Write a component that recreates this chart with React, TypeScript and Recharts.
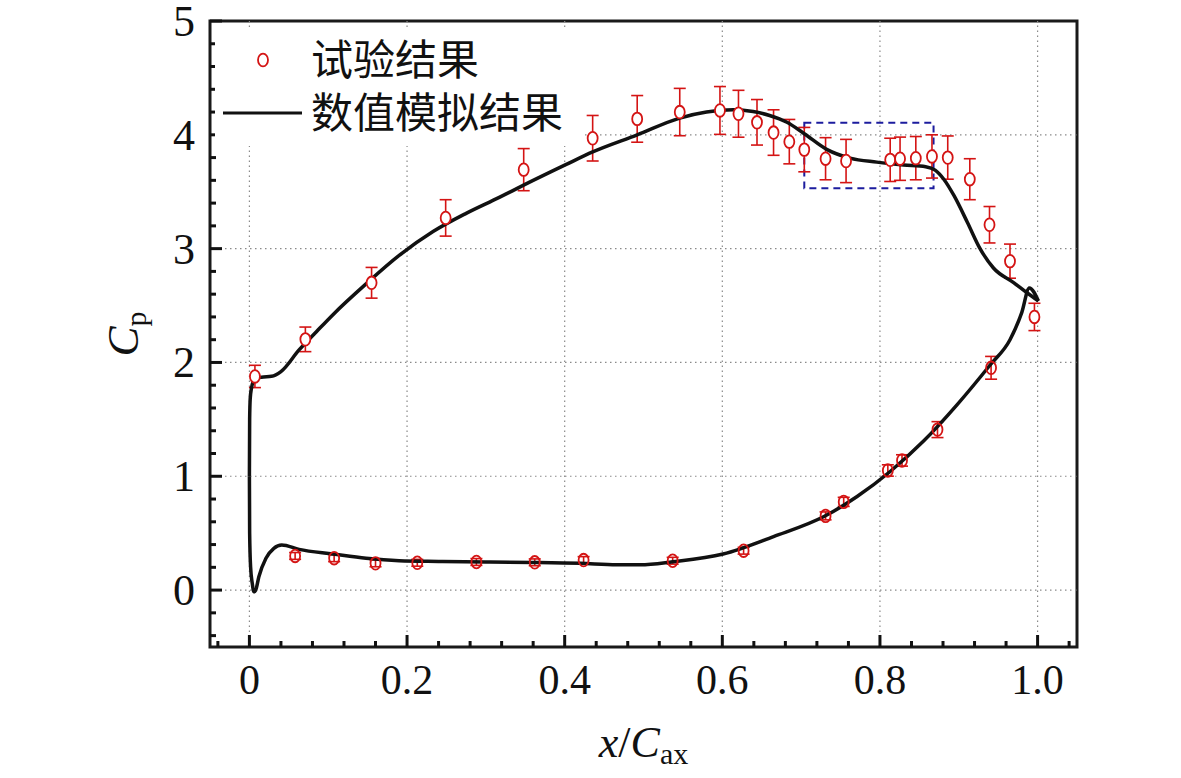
import React from 'react';
import { ComposedChart, XAxis, YAxis, Scatter, Line, ErrorBar, ReferenceLine, ReferenceArea, Legend, Label } from 'recharts';

// experimental Cp, suction side (x/Cax, Cp, error)
const testUpper = [
  { x: 0.007, cp: 1.877, err: 0.098 },
  { x: 0.071, cp: 2.203, err: 0.108 },
  { x: 0.155, cp: 2.7, err: 0.135 },
  { x: 0.249, cp: 3.27, err: 0.16 },
  { x: 0.348, cp: 3.694, err: 0.185 },
  { x: 0.4355, cp: 3.97, err: 0.2 },
  { x: 0.492, cp: 4.14, err: 0.205 },
  { x: 0.546, cp: 4.2, err: 0.208 },
  { x: 0.597, cp: 4.214, err: 0.21 },
  { x: 0.6205, cp: 4.185, err: 0.206 },
  { x: 0.644, cp: 4.11, err: 0.2 },
  { x: 0.665, cp: 4.02, err: 0.2 },
  { x: 0.685, cp: 3.94, err: 0.195 },
  { x: 0.704, cp: 3.87, err: 0.195 },
  { x: 0.731, cp: 3.79, err: 0.185 },
  { x: 0.757, cp: 3.77, err: 0.19 },
  { x: 0.813, cp: 3.78, err: 0.19 },
  { x: 0.8255, cp: 3.79, err: 0.19 },
  { x: 0.8455, cp: 3.795, err: 0.19 },
  { x: 0.866, cp: 3.81, err: 0.19 },
  { x: 0.886, cp: 3.8, err: 0.19 },
  { x: 0.914, cp: 3.61, err: 0.18 },
  { x: 0.939, cp: 3.21, err: 0.16 },
  { x: 0.965, cp: 2.89, err: 0.15 },
  { x: 0.996, cp: 2.4, err: 0.12 },
];

// experimental Cp, pressure side
const testLower = [
  { x: 0.058, cp: 0.3, err: 0.03 },
  { x: 0.1075, cp: 0.28, err: 0.03 },
  { x: 0.16, cp: 0.235, err: 0.03 },
  { x: 0.213, cp: 0.24, err: 0.03 },
  { x: 0.288, cp: 0.247, err: 0.03 },
  { x: 0.362, cp: 0.244, err: 0.03 },
  { x: 0.424, cp: 0.264, err: 0.03 },
  { x: 0.537, cp: 0.258, err: 0.03 },
  { x: 0.627, cp: 0.346, err: 0.03 },
  { x: 0.731, cp: 0.652, err: 0.035 },
  { x: 0.754, cp: 0.775, err: 0.04 },
  { x: 0.81, cp: 1.051, err: 0.05 },
  { x: 0.828, cp: 1.139, err: 0.05 },
  { x: 0.873, cp: 1.41, err: 0.07 },
  { x: 0.941, cp: 1.953, err: 0.1 },
];

// CFD curve, suction side
const cfdUpper = [
  { x: 0.0, cp: 1.0 },
  { x: 0.0003, cp: 1.5 },
  { x: 0.001, cp: 1.68 },
  { x: 0.0025, cp: 1.77 },
  { x: 0.005, cp: 1.835 },
  { x: 0.009, cp: 1.865 },
  { x: 0.018, cp: 1.872 },
  { x: 0.028, cp: 1.878 },
  { x: 0.04, cp: 1.92 },
  { x: 0.063, cp: 2.11 },
  { x: 0.085, cp: 2.27 },
  { x: 0.106, cp: 2.42 },
  { x: 0.148, cp: 2.69 },
  { x: 0.19, cp: 2.94 },
  { x: 0.233, cp: 3.15 },
  { x: 0.275, cp: 3.31 },
  { x: 0.317, cp: 3.45 },
  { x: 0.3485, cp: 3.56 },
  { x: 0.402, cp: 3.74 },
  { x: 0.4355, cp: 3.85 },
  { x: 0.492, cp: 4.0 },
  { x: 0.546, cp: 4.147 },
  { x: 0.58, cp: 4.2 },
  { x: 0.614, cp: 4.22 },
  { x: 0.639, cp: 4.205 },
  { x: 0.66, cp: 4.17 },
  { x: 0.682, cp: 4.11 },
  { x: 0.704, cp: 4.01 },
  { x: 0.733, cp: 3.87 },
  { x: 0.762, cp: 3.795 },
  { x: 0.796, cp: 3.76 },
  { x: 0.83, cp: 3.735 },
  { x: 0.858, cp: 3.72 },
  { x: 0.87, cp: 3.69 },
  { x: 0.881, cp: 3.61 },
  { x: 0.894, cp: 3.465 },
  { x: 0.911, cp: 3.23 },
  { x: 0.927, cp: 3.0 },
  { x: 0.944, cp: 2.83 },
  { x: 0.97, cp: 2.7 },
  { x: 0.987, cp: 2.61 },
  { x: 1.001, cp: 2.54 },
];

// CFD curve, pressure side
const cfdLower = [
  { x: 0.0, cp: 1.0 },
  { x: 0.0003, cp: 0.5 },
  { x: 0.0015, cp: 0.205 },
  { x: 0.0036, cp: 0.06 },
  { x: 0.0057, cp: -0.015 },
  { x: 0.008, cp: 0.0 },
  { x: 0.012, cp: 0.117 },
  { x: 0.021, cp: 0.28 },
  { x: 0.031, cp: 0.367 },
  { x: 0.041, cp: 0.396 },
  { x: 0.063, cp: 0.358 },
  { x: 0.106, cp: 0.317 },
  { x: 0.148, cp: 0.279 },
  { x: 0.19, cp: 0.258 },
  { x: 0.24, cp: 0.252 },
  { x: 0.3, cp: 0.247 },
  { x: 0.36, cp: 0.243 },
  { x: 0.42, cp: 0.235 },
  { x: 0.466, cp: 0.222 },
  { x: 0.496, cp: 0.222 },
  { x: 0.537, cp: 0.249 },
  { x: 0.601, cp: 0.317 },
  { x: 0.665, cp: 0.47 },
  { x: 0.729, cp: 0.646 },
  { x: 0.771, cp: 0.822 },
  { x: 0.813, cp: 1.042 },
  { x: 0.855, cp: 1.307 },
  { x: 0.898, cp: 1.63 },
  { x: 0.94, cp: 1.98 },
  { x: 0.965, cp: 2.2 },
  { x: 0.98, cp: 2.44 },
  { x: 0.9895, cp: 2.655 },
  { x: 1.001, cp: 2.54 },
];

const xTicks = [
  -0.04, 0, 0.04, 0.08, 0.12, 0.16, 0.2, 0.24, 0.28, 0.32, 0.36, 0.4, 0.44, 0.48,
  0.52, 0.56, 0.6, 0.64, 0.68, 0.72, 0.76, 0.8, 0.84, 0.88, 0.92, 0.96, 1.0, 1.04,
];
const xMajorTicks = [0, 0.2, 0.4, 0.6, 0.8, 1.0];
const xMajorLabels = ['0', '0.2', '0.4', '0.6', '0.8', '1.0'];

const yTicks = [
  -0.4, -0.2, 0, 0.2, 0.4, 0.6, 0.8, 1, 1.2, 1.4, 1.6, 1.8, 2, 2.2, 2.4, 2.6, 2.8,
  3, 3.2, 3.4, 3.6, 3.8, 4, 4.2, 4.4, 4.6, 4.8, 5,
];
const yMajorTicks = [0, 1, 2, 3, 4, 5];
const yMajorLabels = ['0', '1', '2', '3', '4', '5'];

const gridX = [0, 0.2, 0.4, 0.6, 0.8, 1.0];
const gridY = [0, 1, 2, 3, 4];

// zoom box around the plateau
const boxX = [0.704, 0.868];
const boxY = [3.53, 4.106];

const RED = '#d41414';
const INK = '#111';
const SERIF = '"Liberation Serif", "Times New Roman", serif';
const CJK = '"Noto Sans CJK SC", sans-serif';

function findMajor(list: number[], v: number) {
  return list.findIndex((m) => Math.abs(m - v) < 1e-6);
}

function XTick(props: any) {
  const { x, y, payload } = props;
  const idx = findMajor(xMajorTicks, payload.value);
  const major = idx >= 0;
  return (
    <g>
      <line x1={x} x2={x} y1={y} y2={y - (major ? 12 : 6)} stroke={INK} strokeWidth={3} />
      {major && (
        <text x={x} y={y + 47} textAnchor="middle" fontSize={42} fontFamily={SERIF} fill={INK}>
          {xMajorLabels[idx]}
        </text>
      )}
    </g>
  );
}

function YTick(props: any) {
  const { x, y, payload } = props;
  const idx = findMajor(yMajorTicks, payload.value);
  const major = idx >= 0;
  return (
    <g>
      <line x1={x} x2={x + (major ? 12 : 6)} y1={y} y2={y} stroke={INK} strokeWidth={3} />
      {major && (
        <text x={x - 15} y={y + 15} textAnchor="end" fontSize={44} fontFamily={SERIF} fill={INK}>
          {yMajorLabels[idx]}
        </text>
      )}
    </g>
  );
}

function XLabel(props: any) {
  const vb = props.viewBox;
  return (
    <text x={vb.x + vb.width / 2} y={vb.y + 110} textAnchor="middle" fontSize={44} fontFamily={SERIF} fill={INK}>
      <tspan fontStyle="italic">x</tspan>
      <tspan>/</tspan>
      <tspan fontStyle="italic">C</tspan>
      <tspan fontSize={30} dy={7}>ax</tspan>
    </text>
  );
}

function YLabel(props: any) {
  const vb = props.viewBox;
  const cx = vb.x + 38;
  const cy = vb.y + vb.height / 2;
  return (
    <text x={cx} y={cy} transform={`rotate(-90, ${cx}, ${cy})`} textAnchor="middle" fontSize={45} fontFamily={SERIF} fill={INK}>
      <tspan fontStyle="italic">C</tspan>
      <tspan fontSize={30} dy={8}>p</tspan>
    </text>
  );
}

const openDot = (fill: string) => (p: any) => (
  <ellipse cx={p.cx} cy={p.cy} rx={5} ry={6.3} fill={fill} stroke={RED} strokeWidth={1.8} />
);

function LegendBox() {
  return (
    <svg width={370} height={116} style={{ display: 'block', background: '#fff', overflow: 'visible' }}>
      <ellipse cx={48} cy={30} rx={5} ry={6.3} fill="#fff" stroke={RED} strokeWidth={1.8} />
      <text x={96} y={45} fontSize={42} fontFamily={CJK} fill={INK}>试验结果</text>
      <line x1={8} x2={87} y1={83} y2={83} stroke={INK} strokeWidth={3} />
      <text x={96} y={98} fontSize={42} fontFamily={CJK} fill={INK}>数值模拟结果</text>
    </svg>
  );
}

export default function App() {
  return (
    <div style={{ position: 'absolute', left: 0, top: 0, width: 1181, height: 778, background: '#fff' }}>
      <ComposedChart width={1181} height={778} margin={{ top: 21, right: 104, bottom: 31, left: 100 }}>
        <XAxis
          type="number"
          dataKey="x"
          domain={[-0.05, 1.05]}
          allowDataOverflow
          ticks={xTicks}
          interval={0}
          tick={<XTick />}
          tickLine={false}
          tickSize={0}
          tickMargin={0}
          axisLine={false}
          height={100}
        >
          <Label content={<XLabel />} />
        </XAxis>
        <YAxis
          type="number"
          dataKey="cp"
          domain={[-0.5, 5]}
          allowDataOverflow
          ticks={yTicks}
          interval={0}
          tick={<YTick />}
          tickLine={false}
          tickSize={0}
          tickMargin={0}
          axisLine={false}
          width={110}
        >
          <Label content={<YLabel />} />
        </YAxis>

        {gridX.map((v) => (
          <ReferenceLine key={`gx${v}`} x={v} stroke="#8a8a8a" strokeWidth={1.2} strokeDasharray="1.5 3.5" />
        ))}
        {gridY.map((v) => (
          <ReferenceLine key={`gy${v}`} y={v} stroke="#8a8a8a" strokeWidth={1.2} strokeDasharray="1.5 3.5" />
        ))}

        <ReferenceArea
          x1={boxX[0]}
          x2={boxX[1]}
          y1={boxY[0]}
          y2={boxY[1]}
          fill="none"
          fillOpacity={0}
          stroke="#1c1c9e"
          strokeWidth={2}
          strokeDasharray="7 5"
        />

        <Scatter data={testUpper} dataKey="cp" shape={openDot('#fff')} isAnimationActive={false}>
          <ErrorBar dataKey="err" direction="y" width={6} stroke={RED} strokeWidth={1.6} />
        </Scatter>
        <Scatter data={testLower} dataKey="cp" shape={openDot('none')} isAnimationActive={false}>
          <ErrorBar dataKey="err" direction="y" width={6} stroke={RED} strokeWidth={1.6} />
        </Scatter>

        <Line data={cfdUpper} dataKey="cp" type="monotone" stroke={INK} strokeWidth={3.5} dot={false} isAnimationActive={false} />
        <Line data={cfdLower} dataKey="cp" type="monotone" stroke={INK} strokeWidth={3.5} dot={false} isAnimationActive={false} />

        <ReferenceArea x1={-0.05} x2={1.05} y1={-0.5} y2={5} fill="none" fillOpacity={0} stroke="#1a1a1a" strokeWidth={3} />

        <Legend
          verticalAlign="middle"
          align="center"
          layout="horizontal"
          wrapperStyle={{ left: 215, top: 30, width: 370, height: 116 }}
          content={() => <LegendBox />}
        />
      </ComposedChart>
    </div>
  );
}
